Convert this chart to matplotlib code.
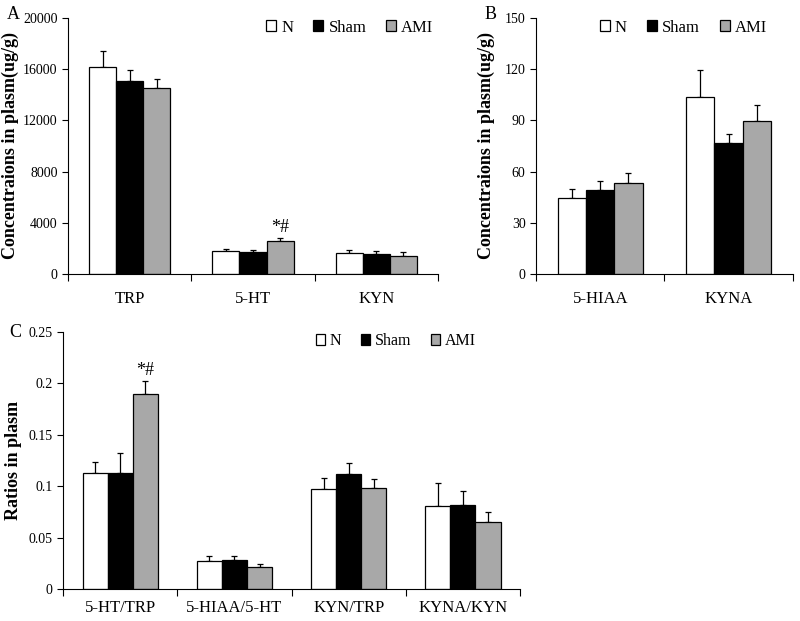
import numpy as np
import matplotlib
matplotlib.use('Agg')
import matplotlib.pyplot as plt
from matplotlib.patches import Patch

plt.rcParams['font.family'] = ['Liberation Serif', 'DejaVu Serif']

groups = ['N', 'Sham', 'AMI']
colors = ['white', 'black', '#a8a8a8']

# Panel A
cats_a = ['TRP', '5-HT', 'KYN']
a_mean = {'N': [16150, 1770, 1640], 'Sham': [15050, 1670, 1590], 'AMI': [14500, 2580, 1430]}
a_err = {'N': [1250, 180, 240], 'Sham': [850, 210, 180], 'AMI': [700, 220, 260]}

# Panel B
cats_b = ['5-HIAA', 'KYNA']
b_mean = {'N': [44.5, 103.5], 'Sham': [49.0, 76.6], 'AMI': [53.5, 89.6]}
b_err = {'N': [5.3, 15.8], 'Sham': [5.3, 5.6], 'AMI': [5.7, 9.4]}

# Panel C
cats_c = ['5-HT/TRP', '5-HIAA/5-HT', 'KYN/TRP', 'KYNA/KYN']
c_mean = {'N': [0.1133, 0.0276, 0.0974, 0.0805], 'Sham': [0.1133, 0.0286, 0.1117, 0.0818],
          'AMI': [0.190, 0.0218, 0.0984, 0.0656]}
c_err = {'N': [0.0101, 0.0042, 0.0101, 0.0224], 'Sham': [0.0187, 0.0032, 0.0107, 0.0137],
         'AMI': [0.0126, 0.0026, 0.0081, 0.0097]}


def draw_panel(ax, cats, means, errs, ymax, yticks, ylabel, legend_anchor, xpad, ypad,
               leg_fs=12, marks=()):
    n = len(cats)
    x = np.arange(n)
    w = 0.22
    for i, g in enumerate(groups):
        xs = x + (i - 1) * w
        ax.bar(xs, means[g], width=w, color=colors[i], edgecolor='black', linewidth=0.9, zorder=2)
        ax.errorbar(xs, means[g], yerr=[np.zeros(n), errs[g]], fmt='none', ecolor='black',
                    elinewidth=0.9, capsize=2.5, capthick=0.9, zorder=1)
    for ci, gi, txt in marks:
        g = groups[gi]
        ax.text(x[ci] + (gi - 1) * w, means[g][ci] + errs[g][ci] + ymax * 0.008, txt,
                ha='center', va='bottom', fontsize=13)
    ax.set_xlim(-0.5, n - 0.5)
    ax.set_ylim(0, ymax)
    ax.set_yticks(yticks)
    ax.set_xticks(np.arange(n + 1) - 0.5)
    ax.set_xticklabels([])
    ax.set_xticks(x, minor=True)
    ax.set_xticklabels(cats, minor=True, fontsize=12)
    ax.tick_params(axis='x', which='minor', length=0, pad=xpad)
    ax.tick_params(axis='x', which='major', length=5, direction='out')
    ax.tick_params(axis='y', labelsize=10, length=4)
    for s in ['top', 'right']:
        ax.spines[s].set_visible(False)
    ax.set_ylabel(ylabel, fontsize=13, fontweight='bold', labelpad=ypad)
    handles = [Patch(facecolor=colors[i], edgecolor='black', linewidth=0.9) for i in range(3)]
    ax.legend(handles, groups, loc='upper right', bbox_to_anchor=legend_anchor, ncol=3, frameon=False,
              fontsize=leg_fs, handlelength=0.6, handleheight=0.6, handletextpad=0.3,
              columnspacing=1.2, borderaxespad=0)


fig = plt.figure(figsize=(8, 6.21), dpi=100)
ax_a = fig.add_axes([0.085, 0.559, 0.4625, 0.412])
ax_b = fig.add_axes([0.67, 0.559, 0.321, 0.412])
ax_c = fig.add_axes([0.079, 0.0515, 0.571, 0.414])

draw_panel(ax_a, cats_a, a_mean, a_err, 20000, [0, 4000, 8000, 12000, 16000, 20000],
           'Concentraions in plasm(ug/g)', (1.006, 1.02), 12, 3, marks=[(1, 2, '*#')])
draw_panel(ax_b, cats_b, b_mean, b_err, 150, [0, 30, 60, 90, 120, 150],
           'Concentraions in plasm(ug/g)', (0.926, 1.02), 12, 7)
draw_panel(ax_c, cats_c, c_mean, c_err, 0.25, [0, 0.05, 0.1, 0.15, 0.2, 0.25],
           'Ratios in plasm', (0.918, 1.02), 8, 5, leg_fs=11.5, marks=[(0, 2, '*#')])
ax_c.set_yticklabels(['0', '0.05', '0.1', '0.15', '0.2', '0.25'])

fig.text(0.009, 0.977, 'A', fontsize=13, ha='left', va='center')
fig.text(0.606, 0.977, 'B', fontsize=13, ha='left', va='center')
fig.text(0.012, 0.465, 'C', fontsize=13, ha='left', va='center')

fig.savefig('out.png', dpi=100)
